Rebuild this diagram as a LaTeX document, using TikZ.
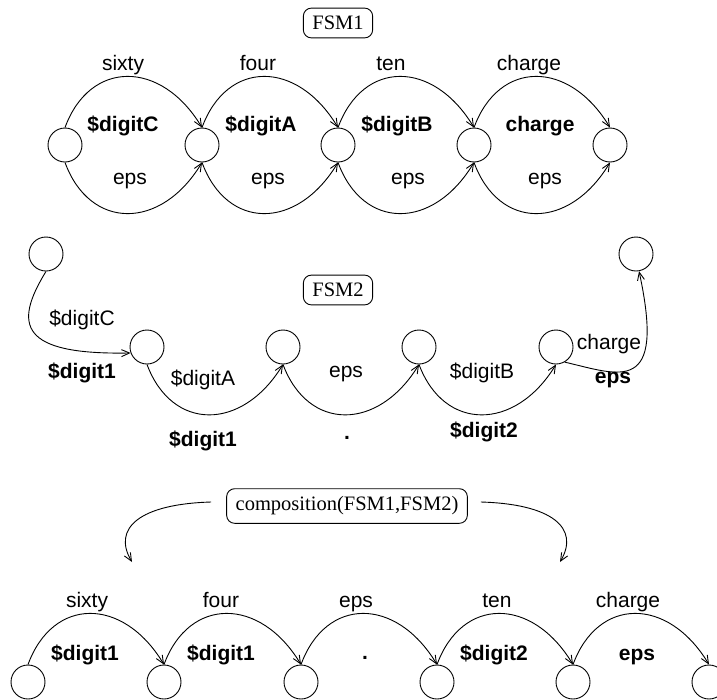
\documentclass[tikz,border=0pt]{standalone}
\usepackage{fontspec}
\setmainfont{Liberation Serif}
\newfontfamily\hv{Liberation Sans}
\usetikzlibrary{arrows.meta}
\begin{document}
\begin{tikzpicture}[x=1pt,y=-1pt,
  st/.style={circle,draw,minimum size=34pt,inner sep=0pt,line width=0.9pt},
  tr/.style={draw,line width=0.9pt,-{Straight Barb[length=8pt,width=7pt]}},
  lab/.style={font=\hv\fontsize{21}{25}\selectfont,anchor=base,inner sep=0pt},
  blab/.style={lab,font=\hv\bfseries\fontsize{21}{25}\selectfont},
  title/.style={draw,rounded corners=8pt,line width=0.9pt,font=\fontsize{20.5}{24}\selectfont,inner xsep=9pt,inner ysep=8pt}]
\useasboundingbox (0,0) rectangle (717,699);

% ---------------- FSM1 ----------------
\node[title] (t1) at (338,23) {FSM1};
\node[st] (a1) at (65,145) {};
\node[st] (a2) at (202,145) {};
\node[st] (a3) at (338,145) {};
\node[st] (a4) at (474,145) {};
\node[st] (a5) at (610,145) {};
\foreach \p/\q in {a1/a2,a2/a3,a3/a4,a4/a5}{
  \draw[tr] (\p.north) .. controls +(25,-68) and +(-41,-68) .. (\q.north);
  \draw[tr] (\p.south) .. controls +(25,68) and +(-41,68) .. (\q.south);
}
\node[lab]  (a12t) at (123,70)  {sixty};
\node[blab] (a12m) at (123,131) {\$digitC};
\node[lab]  (a12b) at (130,184) {eps};
\node[lab]  (a23t) at (258,70)  {four};
\node[blab] (a23m) at (261,131) {\$digitA};
\node[lab]  (a23b) at (268,184) {eps};
\node[lab]  (a34t) at (391,70)  {ten};
\node[blab] (a34m) at (397,131) {\$digitB};
\node[lab]  (a34b) at (408,184) {eps};
\node[lab]  (a45t) at (529,70)  {charge};
\node[blab] (a45m) at (540,131) {charge};
\node[lab]  (a45b) at (545,184) {eps};

% ---------------- FSM2 ----------------
\node[title] (t2) at (338,290) {FSM2};
\node[st] (b0) at (46,254) {};
\node[st] (b1) at (147,347) {};
\node[st] (b2) at (283,347) {};
\node[st] (b3) at (419,347) {};
\node[st] (b4) at (556,347) {};
\node[st] (b5) at (636,254) {};
\draw[tr] (b0.south) .. controls (13,325) and (20,355) .. (b1.200);
\foreach \p/\q in {b1/b2,b2/b3,b3/b4}{
  \draw[tr] (\p.south) .. controls +(25,67) and +(-41,67) .. (\q.south);
}
\draw[tr] (b4.-60) .. controls (620,375) and (666,396) .. (b5.-80);
\node[lab]  (b01t) at (82,325)  {\$digitC};
\node[blab] (b01b) at (82,378)  {\$digit1};
\node[lab]  (b12t) at (203,385) {\$digitA};
\node[blab] (b12b) at (203,446) {\$digit1};
\node[lab]  (b23t) at (346,377) {eps};
\node[blab] (b23b) at (347,439) {.};
\node[lab]  (b34t) at (482,378) {\$digitB};
\node[blab] (b34b) at (484,437) {\$digit2};
\node[lab]  (b45t) at (609,349) {charge};
\node[blab] (b45b) at (613,383) {eps};

% ---------------- composition ----------------
\node[title] (comp) at (347,506) {composition(FSM1,FSM2)};
\coordinate (cl) at ([shift={(-15,-4)}]comp.west);
\coordinate (cr) at ([shift={(13,-4)}]comp.east);
\coordinate (lt) at (132,562);
\coordinate (rt) at (560,562);
\draw[tr] (cl) .. controls (140,504) and (112,528) .. (lt);
\draw[tr] (cr) .. controls (552,504) and (580,528) .. (rt);

\node[st] (c1) at (28,682) {};
\node[st] (c2) at (164,682) {};
\node[st] (c3) at (301,682) {};
\node[st] (c4) at (437,682) {};
\node[st] (c5) at (573,682) {};
\node[st] (c6) at (709,682) {};
\foreach \p/\q in {c1/c2,c2/c3,c3/c4,c4/c5,c5/c6}{
  \draw[tr] (\p.north) .. controls +(25,-68) and +(-41,-68) .. (\q.north);
}
\node[lab]  (c12t) at (87,607)  {sixty};
\node[blab] (c12m) at (85,660)  {\$digit1};
\node[lab]  (c23t) at (221,607) {four};
\node[blab] (c23m) at (221,660) {\$digit1};
\node[lab]  (c34t) at (356,607) {eps};
\node[blab] (c34m) at (365,659) {.};
\node[lab]  (c45t) at (497,607) {ten};
\node[blab] (c45m) at (494,660) {\$digit2};
\node[lab]  (c56t) at (628,607) {charge};
\node[blab] (c56m) at (637,660) {eps};
\end{tikzpicture}
\end{document}
